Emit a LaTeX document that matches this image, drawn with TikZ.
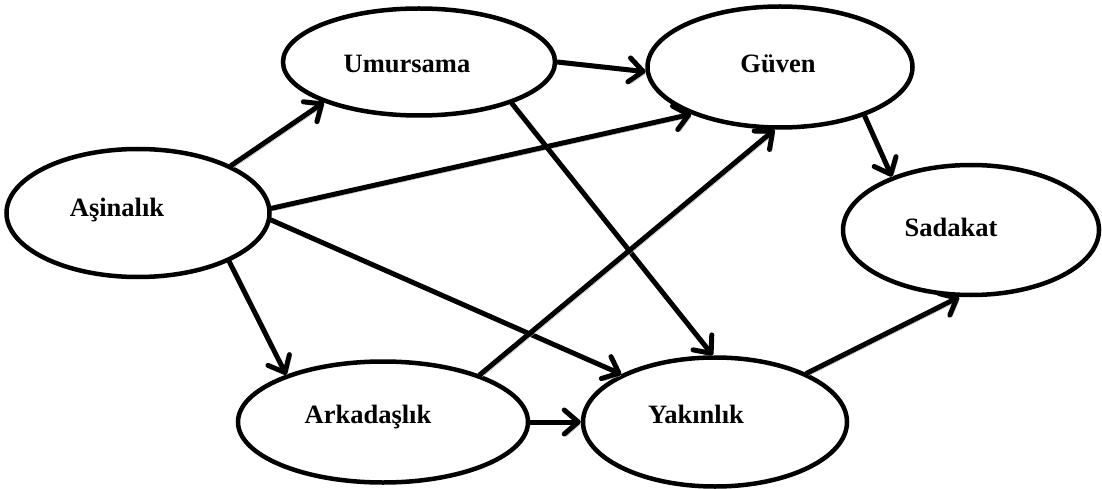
\documentclass[tikz,border=0pt]{standalone}
\usepackage{fontspec}
\setmainfont{Liberation Serif}
\usetikzlibrary{shapes.geometric,arrows.meta}
\begin{document}
\begin{tikzpicture}[x=1pt,y=1pt,
  construct/.style={ellipse,draw=black,line width=4.5pt,fill=white,inner sep=0pt},
  caption/.style={anchor=base,inner sep=0pt,font=\fontsize{26.5}{30}\selectfont\bfseries},
  path/.style={line width=5pt,line cap=round,
    -{Straight Barb[length=14pt,width=24pt,line cap=round,line join=round]},
    preaction={draw=black!30,transform canvas={shift={(2pt,-2.5pt)}}}}
]
\useasboundingbox (0,0) rectangle (1102,488);
% constructs
\node[construct,minimum width=263pt,minimum height=128pt] (asi) at (138,275) {};
\node[construct,minimum width=272pt,minimum height=107pt] (umu) at (419,426) {};
\node[construct,minimum width=265pt,minimum height=121pt] (guv) at (780,421) {};
\node[construct,minimum width=256pt,minimum height=130pt] (sad) at (971,258) {};
\node[construct,minimum width=290pt,minimum height=121pt] (ark) at (383,66) {};
\node[construct,minimum width=264pt,minimum height=129pt] (yak) at (715,66) {};
% names
\node[caption] (tasi) at (117,272) {Aşinalık};
\node[caption] (tumu) at (407,415) {Umursama};
\node[caption] (tguv) at (778,415) {Güven};
\node[caption] (tsad) at (951,252) {Sadakat};
\node[caption] (tark) at (368,65) {Arkadaşlık};
\node[caption] (tyak) at (696,65) {Yakınlık};
% paths
\draw[path] (asi.27) -- (umu.203);
\draw[path] (umu.0) -- (guv.182);
\draw[path] (asi.2) -- (guv.208);
\draw[path] (umu.-24) -- (yak.92);
\draw[path] (guv.-30) -- (sad.146);
\draw[path] (asi.-28) -- (ark.154);
\draw[path] (asi.-3) -- (yak.153);
\draw[path] (ark.26) -- (guv.265);
\draw[path] (ark.0) -- (yak.180);
\draw[path] (yak.28) -- (sad.260);
\end{tikzpicture}
\end{document}
